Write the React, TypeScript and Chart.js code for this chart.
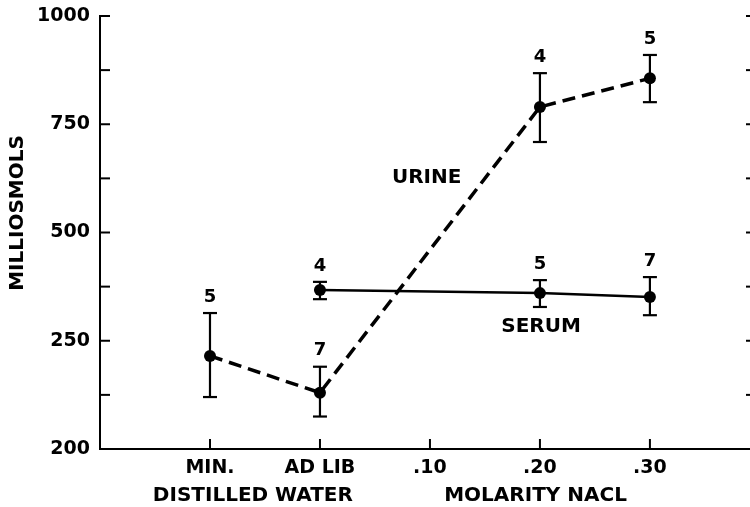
import React, { useEffect, useRef } from 'react';
import { Chart, registerables } from 'chart.js';

Chart.register(...registerables);

// ---- data ----
const categories = ['MIN.', 'AD LIB', '.10', '.20', '.30'];
const groupLabels = ['DISTILLED WATER', 'MOLARITY NACL'];
const yTickValues = [200, 250, 500, 750, 1000];
const yMinorValues = [225, 375, 625, 875];
const rightMarkValues = [225, 250, 375, 500, 625, 750, 875, 1000];

const urineMean = [243, 226, null, 790, 856];
const urineHigh = [314, 238, null, 868, 910];
const urineLow = [224, 215, null, 709, 801];
const urineN = [5, 7, null, 4, 5];

const serumMean = [null, 367, null, 360, 351];
const serumHigh = [null, 386, null, 390, 397];
const serumLow = [null, 346, null, 328, 309];
const serumN = [null, 4, null, 5, 7];

// broken axis: 200..250 occupies the first step, then linear 250..1000
const toAxis = (v: number) => (v <= 250 ? (v - 200) * 5 : v);

const FONT = '"DejaVu Sans", "Liberation Sans", sans-serif';

const toPoints = (arr: (number | null)[]) =>
  arr
    .map((v, i) => (v == null ? null : { x: i, y: toAxis(v) }))
    .filter((p) => p !== null) as { x: number; y: number }[];

const series = [
  { mean: urineMean, high: urineHigh, low: urineLow, n: urineN },
  { mean: serumMean, high: serumHigh, low: serumLow, n: serumN },
];

const decorPlugin = {
  id: 'decor',
  afterDatasetsDraw(chart: any) {
    const ctx = chart.ctx as CanvasRenderingContext2D;
    const xs = chart.scales.x;
    const ys = chart.scales.y;
    const { left, bottom, right } = chart.chartArea;
    const line = (x1: number, y1: number, x2: number, y2: number) => {
      ctx.beginPath();
      ctx.moveTo(x1, y1);
      ctx.lineTo(x2, y2);
      ctx.stroke();
    };
    ctx.save();
    ctx.strokeStyle = '#000';
    ctx.fillStyle = '#000';
    ctx.lineWidth = 2;
    ctx.setLineDash([]);

    // inward y ticks
    [...yTickValues, ...yMinorValues].forEach((v) => {
      const py = ys.getPixelForValue(toAxis(v));
      line(left, py, left + 10, py);
    });
    // inward x ticks
    categories.forEach((_, i) => {
      const px = xs.getPixelForValue(i);
      line(px, bottom, px, bottom - 10);
    });
    // marks at right edge
    rightMarkValues.forEach((v) => {
      const py = ys.getPixelForValue(toAxis(v));
      line(right - 4, py, right, py);
    });

    // error bars and n labels
    series.forEach((s) => {
      s.mean.forEach((m, i) => {
        if (m == null) return;
        const px = xs.getPixelForValue(i);
        const hi = ys.getPixelForValue(toAxis(s.high[i] as number));
        const lo = ys.getPixelForValue(toAxis(s.low[i] as number));
        ctx.lineWidth = 2.2;
        line(px, hi, px, lo);
        line(px - 7, hi, px + 7, hi);
        line(px - 7, lo, px + 7, lo);
        ctx.font = `bold 18px ${FONT}`;
        ctx.textAlign = 'center';
        ctx.textBaseline = 'middle';
        ctx.fillText(String(s.n[i]), px, hi - 16);
      });
    });

    // series labels
    ctx.font = `bold 20px ${FONT}`;
    ctx.textAlign = 'center';
    ctx.textBaseline = 'middle';
    ctx.fillText('URINE', xs.getPixelForValue(1.97), ys.getPixelForValue(626));
    ctx.fillText('SERUM', xs.getPixelForValue(3.01), ys.getPixelForValue(282));

    // group labels under the x axis
    ctx.font = `bold 20px ${FONT}`;
    ctx.fillText(groupLabels[0], xs.getPixelForValue(0.39), bottom + 47);
    ctx.fillText(groupLabels[1], xs.getPixelForValue(2.96), bottom + 47);

    // y axis title
    ctx.save();
    ctx.translate(18, 213);
    ctx.rotate(-Math.PI / 2);
    ctx.font = `bold 20px ${FONT}`;
    ctx.fillText('MILLIOSMOLS', 0, 0);
    ctx.restore();

    ctx.restore();
  },
};

export default function App() {
  const ref = useRef<HTMLCanvasElement>(null);
  useEffect(() => {
    document.body.style.margin = '0';
    const chart = new Chart(ref.current as HTMLCanvasElement, {
      type: 'line',
      data: {
        datasets: [
          {
            label: 'URINE',
            data: toPoints(urineMean),
            borderColor: '#000',
            backgroundColor: '#000',
            borderWidth: 3.5,
            borderDash: [13, 7],
            pointRadius: 6,
            pointBackgroundColor: '#000',
            pointBorderWidth: 0,
            tension: 0,
          },
          {
            label: 'SERUM',
            data: toPoints(serumMean),
            borderColor: '#000',
            backgroundColor: '#000',
            borderWidth: 2.5,
            pointRadius: 6,
            pointBackgroundColor: '#000',
            pointBorderWidth: 0,
            tension: 0,
          },
        ],
      },
      options: {
        responsive: false,
        animation: false,
        devicePixelRatio: 1,
        layout: { autoPadding: false, padding: { top: 16, right: 0, left: 0, bottom: 0 } },
        plugins: { legend: { display: false }, tooltip: { enabled: false } },
        scales: {
          x: {
            type: 'linear',
            min: -1,
            max: 4.91,
            grid: { display: false, drawTicks: false },
            border: { display: true, color: '#000', width: 2 },
            afterBuildTicks: (s: any) => {
              s.ticks = categories.map((_, i) => ({ value: i }));
            },
            afterFit: (s: any) => {
              s.height = 58;
              s.paddingLeft = 0;
              s.paddingRight = 0;
              s.paddingTop = 0;
              s.paddingBottom = 0;
            },
            ticks: {
              autoSkip: false,
              maxRotation: 0,
              padding: 8,
              color: '#000',
              font: { family: FONT, weight: 'bold', size: 19 },
              callback: (_v: any, i: number) => categories[i],
            },
          },
          y: {
            type: 'linear',
            min: 0,
            max: 1000,
            grid: { display: false, drawTicks: false },
            border: { display: true, color: '#000', width: 2 },
            afterBuildTicks: (s: any) => {
              s.ticks = yTickValues.map((v) => ({ value: toAxis(v) }));
            },
            afterFit: (s: any) => {
              s.width = 100;
              s.paddingLeft = 0;
              s.paddingRight = 0;
              s.paddingTop = 0;
              s.paddingBottom = 0;
            },
            ticks: {
              padding: 10,
              color: '#000',
              font: { family: FONT, weight: 'bold', size: 19 },
              callback: (_v: any, i: number) => String(yTickValues[i]),
            },
          },
        },
      } as any,
      plugins: [decorPlugin],
    });
    return () => chart.destroy();
  }, []);
  return (
    <div style={{ width: 750, height: 507 }}>
      <canvas ref={ref} width={750} height={507} style={{ display: 'block' }} />
    </div>
  );
}
